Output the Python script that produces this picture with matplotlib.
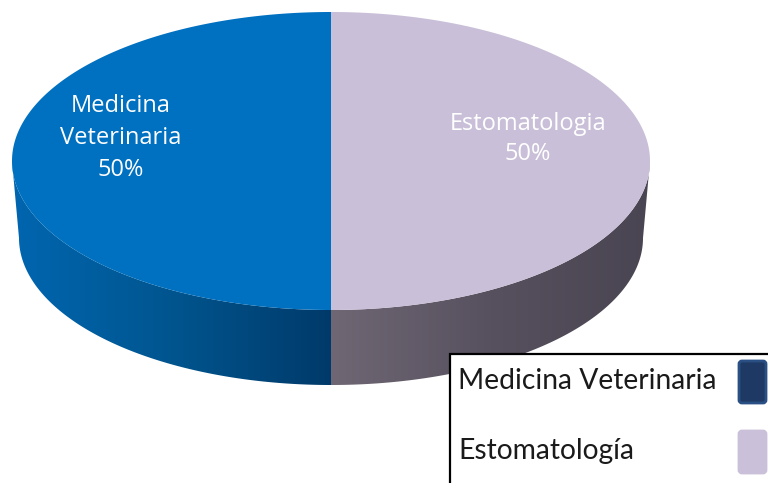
import numpy as np
import matplotlib.pyplot as plt
from matplotlib.patches import Polygon, Rectangle, FancyBboxPatch
from matplotlib.colors import LinearSegmentedColormap

categories = ["Medicina Veterinaria", "Estomatología"]
labels = ["Medicina\nVeterinaria", "Estomatologia"]
values = [50, 50]
top_colors = ["#0070C0", "#C9BFD8"]
side_colors = [["#0066B0", "#00558F", "#003A6A"], ["#6F6774", "#57505E", "#4A4552"]]
legend_colors = ["#1E3A64", "#CBC0DA"]

W, H = 768, 483
fig = plt.figure(figsize=(W / 100, H / 100), dpi=100)
ax = fig.add_axes([0, 0, 1, 1])
ax.set_xlim(0, W)
ax.set_ylim(H, 0)
ax.axis("off")

# ellipse geometry (pixels)
cx, cy, a, b = 331, 161, 319, 149
depth = 75
ab, bb = 312, 147
cyb = cy + b + depth - bb


def top_pt(t):
    return cx + a * np.cos(t), cy - b * np.sin(t)


def bot_pt(t):
    return cx + ab * np.cos(t), cyb - bb * np.sin(t)


total = sum(values)
start = np.pi / 2
angles = []
for v in values:
    end = start + 2 * np.pi * v / total
    angles.append((start, end))
    start = end

# side walls (front half only: angles between pi and 2pi)
for i, (t1, t2) in enumerate(angles):
    lo, hi = max(t1, np.pi), min(t2, 2 * np.pi)
    if hi <= lo:
        continue
    t = np.linspace(lo, hi, 200)
    tx, ty = top_pt(t)
    bx, by = bot_pt(t[::-1])
    pts = np.column_stack([np.r_[tx, bx], np.r_[ty, by]])
    poly = Polygon(pts, closed=True, facecolor="none", edgecolor="none")
    ax.add_patch(poly)
    xmin, xmax = pts[:, 0].min(), pts[:, 0].max()
    cmap = LinearSegmentedColormap.from_list("s%d" % i, side_colors[i])
    grad = np.linspace(0, 1, 256)[None, :]
    im = ax.imshow(grad, cmap=cmap, aspect="auto",
                   extent=[xmin, xmax, pts[:, 1].max(), pts[:, 1].min()],
                   zorder=1)
    im.set_clip_path(poly)

# top faces
for i, (t1, t2) in enumerate(angles):
    t = np.linspace(t1, t2, 300)
    tx, ty = top_pt(t)
    pts = np.column_stack([np.r_[cx, tx], np.r_[cy, ty]])
    ax.add_patch(Polygon(pts, closed=True, facecolor=top_colors[i],
                         edgecolor="none", zorder=2))

# labels
pcts = ["%d%%" % round(100 * v / total) for v in values]
ax.text(121, 138, labels[0] + "\n" + pcts[0], color="white", fontsize=17,
        family="Open Sans", ha="center", va="center", linespacing=1.42, zorder=3)
ax.text(528, 139, labels[1] + "\n" + pcts[1], color="white", fontsize=17,
        family="Open Sans", ha="center", va="center", linespacing=1.3, zorder=3)

# legend box (cut off at figure edge)
ax.add_patch(Rectangle((450, 354), 400, 200, facecolor="white",
                       edgecolor="black", linewidth=1.6, zorder=4))
ys = [381, 451]
for i, cat in enumerate(categories):
    ax.text(458, ys[i], cat, fontsize=20.3, family="Lato", color="#1a1a1a",
            ha="left", va="center", zorder=5)
    ax.add_patch(FancyBboxPatch((740, ys[i] - 19), 25, 40,
                                boxstyle="round,pad=1,rounding_size=3",
                                facecolor=legend_colors[i],
                                edgecolor="#2A4F84" if i == 0 else legend_colors[i],
                                linewidth=2, zorder=5))

fig.savefig("out.png", dpi=100)
